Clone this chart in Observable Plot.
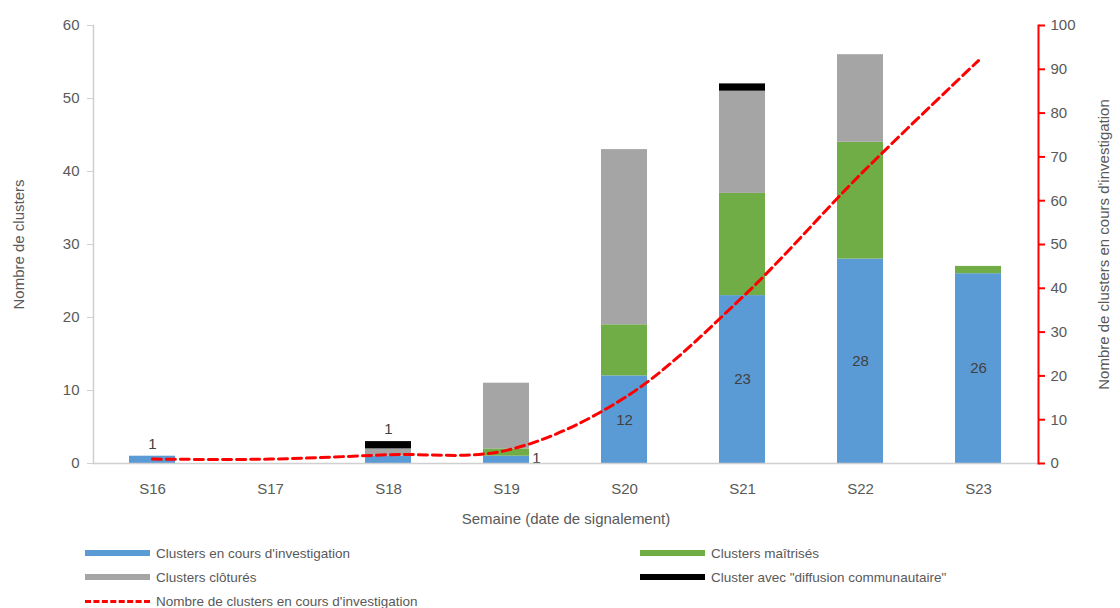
<!DOCTYPE html>
<html>
<head>
<meta charset="utf-8">
<script src="https://cdn.jsdelivr.net/npm/d3@7"></script>
<script src="https://cdn.jsdelivr.net/npm/@observablehq/plot@0.6"></script>
<style>
  html, body { margin: 0; padding: 0; background: #fff; }
  body { width: 1120px; height: 608px; overflow: hidden; font-family: "Liberation Sans", Arial, sans-serif; }
  #legend { position: relative; height: 73px; color: #595959; font-size: 13.5px; }
  .item { position: absolute; display: flex; align-items: center; height: 22px; }
  .sw { width: 65px; height: 6px; margin-right: 6px; }
  .dash { width: 65px; height: 0; border-top: 3px dashed #ff0000; margin-right: 6px; }
</style>
</head>
<body>
<div id="chart"></div>
<div id="legend"></div>
<script>
const weeks = ["S16", "S17", "S18", "S19", "S20", "S21", "S22", "S23"];
const enCours = [1, 0, 1, 1, 12, 23, 28, 26];
const maitrises = [0, 0, 0, 1, 7, 14, 16, 1];
const clotures = [0, 0, 1, 9, 24, 14, 12, 0];
const diffusion = [0, 0, 1, 0, 0, 1, 0, 0];
const cumulEnCours = [1, 1, 2, 3, 15, 38, 66, 92];
const leftTicks = [0, 10, 20, 30, 40, 50, 60];
const rightTicks = [0, 10, 20, 30, 40, 50, 60, 70, 80, 90, 100];
const seriesNames = ["Clusters en cours d'investigation", "Clusters maîtrisés", "Clusters clôturés", "Cluster avec \"diffusion communautaire\""];
const seriesColors = ["#5b9bd5", "#70ad47", "#a5a5a5", "#000000"];
const lineName = "Nombre de clusters en cours d'investigation";
// data labels
const insideLabelWeeks = ["S20", "S21", "S22", "S23"];
const aboveLabelWeeks = ["S16", "S18"];
const aboveLabelValues = [1, 1];
const rightLabelWeeks = ["S19"];
const rightLabelValues = [1];

const rightMax = 100, leftMax = 60;
const k = leftMax / rightMax;

const seriesValues = [enCours, maitrises, clotures, diffusion];
const barData = [];
seriesValues.forEach((vals, s) => vals.forEach((v, i) => {
  if (v > 0) barData.push({week: weeks[i], series: seriesNames[s], value: v});
}));
const totals = weeks.map((w, i) => seriesValues.reduce((a, vals) => a + vals[i], 0));
const lineData = weeks.map((w, i) => ({week: weeks[i], value: cumulEnCours[i]}));
const inside = insideLabelWeeks.map(w => ({week: w, value: enCours[weeks.indexOf(w)]}));
const above = aboveLabelWeeks.map((w, j) => ({week: w, text: aboveLabelValues[j], y: totals[weeks.indexOf(w)]}));
const rightL = rightLabelWeeks.map((w, j) => ({week: w, text: rightLabelValues[j], y: enCours[weeks.indexOf(w)] / 2}));

const grey = "#595959";
const chart = Plot.plot({
  width: 1120,
  height: 535,
  marginLeft: 93,
  marginRight: 82,
  marginTop: 25,
  marginBottom: 72,
  style: {fontFamily: "Liberation Sans, Arial, sans-serif", fontSize: "15px", color: grey, background: "#fff"},
  x: {domain: weeks, paddingInner: 0.61, paddingOuter: 0.305, align: 0.5},
  y: {domain: [0, leftMax]},
  color: {domain: seriesNames, range: seriesColors},
  marks: [
    Plot.barY(barData, Plot.stackY({order: seriesNames, x: "week", y: "value", fill: "series"})),
    Plot.line(lineData, {x: "week", y: d => d.value * k, stroke: "#ff0000", strokeWidth: 3, strokeDasharray: "9,5", curve: "catmull-rom"}),
    Plot.text(inside, {x: "week", y: d => d.value / 2, text: d => String(d.value), fill: "#404040", fontSize: 15}),
    Plot.text(above, {x: "week", y: "y", text: d => String(d.text), dy: -12, fill: "#404040", fontSize: 15}),
    Plot.text(rightL, {x: "week", y: "y", text: d => String(d.text), dx: 30, dy: -2, fill: "#404040", fontSize: 15}),
    Plot.ruleY([0], {stroke: "#d0d0d0", strokeWidth: 1.5}),
    Plot.frame({anchor: "left", stroke: "#d0d0d0", strokeWidth: 1.5}),
    Plot.frame({anchor: "right", stroke: "#ff0000", strokeWidth: 2}),
    Plot.axisX({tickSize: 0, tickPadding: 20, fill: grey, label: "Semaine (date de signalement)", labelAnchor: "center", labelOffset: 60, labelArrow: "none", fontSize: 15}),
    Plot.axisY(leftTicks, {anchor: "left", tickSize: 6, tickPadding: 8, stroke: "#d0d0d0", fill: grey, label: "Nombre de clusters", labelAnchor: "center", labelOffset: 80, labelArrow: "none", fontSize: 15}),
    Plot.axisY(rightTicks.map(v => v * k), {anchor: "right", tickSize: 6, tickPadding: 6, stroke: "#ff0000", strokeWidth: 2, fill: grey, tickFormat: d => String(Math.round(d / k)), label: "Nombre de clusters en cours d'investigation", labelAnchor: "center", labelOffset: 70, labelArrow: "none", fontSize: 15})
  ]
});
document.getElementById("chart").appendChild(chart);

const legend = document.getElementById("legend");
const items = [
  {name: seriesNames[0], color: seriesColors[0], left: 85, top: 7},
  {name: seriesNames[1], color: seriesColors[1], left: 640, top: 7},
  {name: seriesNames[2], color: seriesColors[2], left: 85, top: 31},
  {name: seriesNames[3], color: seriesColors[3], left: 640, top: 31},
  {name: lineName, dash: true, left: 85, top: 55}
];
items.forEach(it => {
  const d = document.createElement("div");
  d.className = "item";
  d.style.left = it.left + "px";
  d.style.top = it.top + "px";
  const s = document.createElement("span");
  if (it.dash) s.className = "dash"; else { s.className = "sw"; s.style.background = it.color; }
  const t = document.createElement("span");
  t.textContent = it.name;
  d.appendChild(s); d.appendChild(t);
  legend.appendChild(d);
});
</script>
</body>
</html>
